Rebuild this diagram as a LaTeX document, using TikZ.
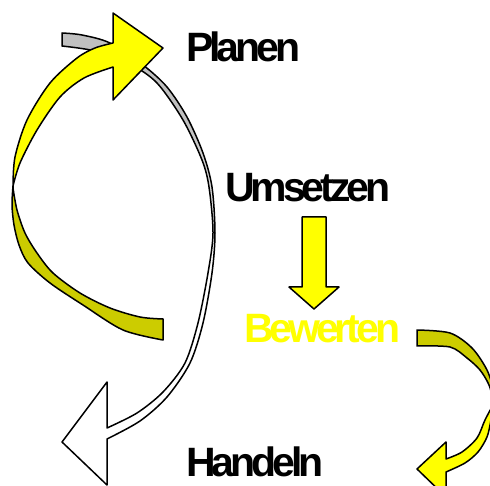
\documentclass[tikz,border=0pt]{standalone}
\usepackage{fontspec}
\newfontfamily\labfont[LetterSpace=-10]{Liberation Sans}
\definecolor{ylw}{RGB}{255,255,0}
\definecolor{olv}{RGB}{204,204,0}
\definecolor{lgr}{RGB}{192,192,192}
\begin{document}
\begin{tikzpicture}[x=1pt,y=-1pt,line join=round,
  outl/.style={draw=black,line width=1.5pt},
  lab/.style={font=\labfont\bfseries\fontsize{41}{49}\selectfont,inner sep=0pt,anchor=base west}]
\useasboundingbox (0,0) rectangle (490,486);
\clip (0,0) rectangle (490,486);
\def\grayarrow{(62,33) -- plot[smooth] coordinates {(62,33) (82,35) (110,43) (143,65) (167,87) (187,117) (203,153) (212,187) (215,233) (212,273) (203,323) (190,363) (167,397) (140,421) (107,439)}
  -- (107,485) -- (62,442) -- (107,382) -- (107,428)
  -- plot[smooth] coordinates {(107,428) (137,413) (163,392) (185,363) (198,323) (208,273) (213,233) (209,187) (202,160) (183,120) (157,83) (130,64) (95,51) (62,46)} -- cycle}
% gray / white curved arrow
\fill[white] \grayarrow;
\begin{scope}
  \clip \grayarrow;
  \fill[lgr] (0,0) rectangle (490,120);
  \shade[top color=lgr,bottom color=white] (0,120) rectangle (490,260);
\end{scope}
\draw[outl] \grayarrow;
% big yellow curved arrow: back (olive) part
\draw[outl,fill=olv] (13,186) -- plot[smooth] coordinates {(13,186) (12,205) (14,225) (19,245) (28,263) (50,283) (83,305) (123,330) (163,340)}
  -- (163,319) -- plot[smooth] coordinates {(163,319) (140,317) (110,308) (80,293) (53,273) (37,253) (25,233) (17,210) (13,188)} -- cycle;
% big yellow curved arrow: front part with head
\draw[outl,fill=ylw] (13,186) -- plot[smooth] coordinates {(13,186) (15,157) (27,120) (50,83) (77,58) (95,48) (113,43)}
  -- (113,13) -- (163,48) -- (113,100) -- (113,67)
  -- plot[smooth] coordinates {(113,67) (84,78) (60,97) (37,130) (20,163) (13,186)} -- cycle;
% straight down arrow
\draw[outl,fill=ylw] (302,217) -- (326,217) -- (326,287) -- (339,287) -- (314,309) -- (289,287) -- (302,287) -- cycle;
% small curved arrow: back (olive) part
\draw[outl,fill=olv] (417,330) -- plot[smooth] coordinates {(417,330) (450,333) (472,348) (487,370) (494,392) (494,403)}
  -- plot[smooth] coordinates {(494,403) (489,385) (480,370) (467,358) (450,347) (417,346)} -- cycle;
% small curved arrow: front part with head
\draw[outl,fill=ylw] (494,403) -- plot[smooth] coordinates {(494,403) (491,420) (487,437) (478,452) (465,463) (446,472)}
  -- (446,497) -- (417,469) -- (446,442) -- (446,459)
  -- plot[smooth] coordinates {(446,459) (462,452) (477,438) (485,420) (494,403)} -- cycle;
% labels
\node[lab] (planen) at (186,62) {Planen};
\node[lab] (umsetzen) at (225,202) {Umsetzen};
\node[lab,text=ylw] (bewerten) at (244,343) {Bewerten};
\node[lab] (handeln) at (186,476) {Handeln};
\end{tikzpicture}
\end{document}
